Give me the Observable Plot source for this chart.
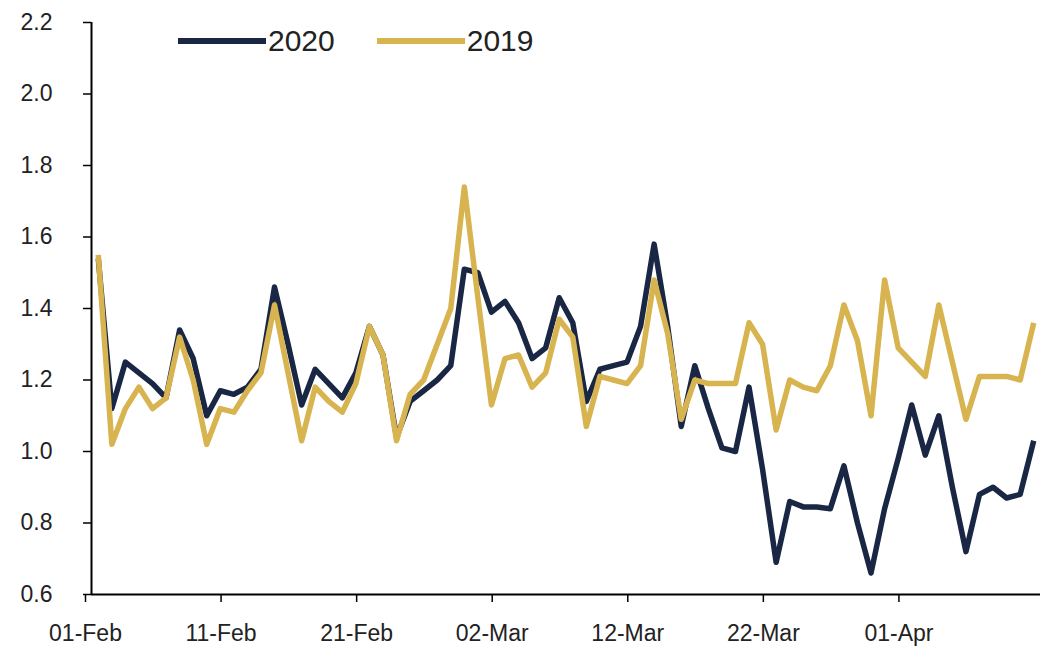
<!DOCTYPE html>
<html>
<head>
<meta charset="utf-8">
<script src="https://cdn.jsdelivr.net/npm/d3@7"></script>
<script src="https://cdn.jsdelivr.net/npm/@observablehq/plot@0.6"></script>
<style>
  html, body { margin: 0; padding: 0; background: #fff; }
  #wrap { position: relative; width: 1041px; height: 658px; font-family: "Liberation Sans", Arial, sans-serif; }
  #legend { position: absolute; top: 24px; left: 178px; display: flex; align-items: center; font-size: 30px; color: #222; }
  #legend .item { display: flex; align-items: center; margin-right: 42px; }
  #legend .sw { width: 88px; height: 6px; margin-right: 2px; }
</style>
</head>
<body>
<div id="wrap">
  <div id="chart"></div>
  <div id="legend"></div>
</div>
<script>
// ---- data ----
const startDate = "2020-02-01";
const endDate = "2020-04-11"; // axis end (exclusive)
const seriesNames = ["2020", "2019"];
const seriesColors = ["#192744", "#d7b44f"];
const values2020 = [1.54,1.12,1.25,1.22,1.19,1.15,1.34,1.26,1.10,1.17,
  1.16,1.18,1.23,1.46,1.30,1.13,1.23,1.19,1.15,1.22,
  1.35,1.27,1.04,1.14,1.17,1.20,1.24,1.51,1.50,1.39,
  1.42,1.36,1.26,1.29,1.43,1.36,1.14,1.23,1.24,1.25,
  1.35,1.58,1.35,1.07,1.24,1.12,1.01,1.00,1.18,0.95,
  0.69,0.86,0.845,0.845,0.84,0.96,0.80,0.66,0.84,0.98,
  1.13,0.99,1.10,0.90,0.72,0.88,0.90,0.87,0.88,1.03];
const values2019 = [1.55,1.02,1.12,1.18,1.12,1.15,1.32,1.20,1.02,1.12,
  1.11,1.17,1.22,1.41,1.22,1.03,1.18,1.14,1.11,1.19,
  1.35,1.27,1.03,1.16,1.20,1.30,1.40,1.74,1.43,1.13,
  1.26,1.27,1.18,1.22,1.37,1.32,1.07,1.21,1.20,1.19,
  1.24,1.48,1.33,1.09,1.20,1.19,1.19,1.19,1.36,1.30,
  1.06,1.20,1.18,1.17,1.24,1.41,1.31,1.10,1.48,1.29,
  1.25,1.21,1.41,1.25,1.09,1.21,1.21,1.21,1.20,1.36];
const xTickDates = ["2020-02-01","2020-02-11","2020-02-21","2020-03-02","2020-03-12","2020-03-22","2020-04-01"];
const yTicks = [0.6,0.8,1.0,1.2,1.4,1.6,1.8,2.0,2.2];

// ---- build table ----
const start = new Date(startDate + "T00:00:00Z");
const end = new Date(endDate + "T00:00:00Z");
const days = d3.utcDay.range(start, d3.utcDay.offset(start, values2020.length));
const rows = [];
[values2020, values2019].forEach((vals, k) => {
  vals.forEach((v, i) => rows.push({series: seriesNames[k], date: days[i], value: v}));
});
const mid = d => d3.utcHour.offset(d.date, 12);
const font = '"Liberation Sans", Arial, sans-serif';

const chart = Plot.plot({
  width: 1041,
  height: 658,
  marginLeft: 91,
  marginRight: 1,
  marginTop: 22,
  marginBottom: 64,
  style: {fontFamily: font, fontSize: "23px", color: "#222", background: "#fff"},
  x: {type: "utc", domain: [start, end]},
  y: {domain: [0.6, 2.2]},
  color: {domain: seriesNames, range: seriesColors},
  marks: [
    Plot.axisX({ticks: xTickDates.map(s => new Date(s + "T00:00:00Z")), tickFormat: d3.utcFormat("%d-%b"), tickSize: 8, tickPadding: 22, label: null, fontSize: 23, dx: -6, stroke: "#000", strokeWidth: 1.5}),
    Plot.axisY({ticks: yTicks, tickFormat: d3.format(".1f"), tickSize: 8, tickPadding: 31, label: null, fontSize: 23, stroke: "#000", strokeWidth: 1.5}),
    Plot.lineY(rows.filter(r => r.series === "2020"), {x: mid, y: "value", stroke: "series", strokeWidth: 5.5, strokeLinejoin: "round", strokeLinecap: "butt"}),
    Plot.lineY(rows.filter(r => r.series === "2019"), {x: mid, y: "value", stroke: "series", strokeWidth: 5.5, strokeLinejoin: "round", strokeLinecap: "butt"}),
    Plot.ruleY([0.6], {stroke: "#000", strokeWidth: 2}),
    Plot.ruleX([start], {y1: 0.6, y2: 2.2, stroke: "#000", strokeWidth: 2})
  ]
});
document.getElementById("chart").appendChild(chart);

const legend = d3.select("#legend");
seriesNames.forEach((name, k) => {
  const item = legend.append("div").attr("class", "item");
  item.append("div").attr("class", "sw").style("background", seriesColors[k]);
  item.append("span").text(name);
});
</script>
</body>
</html>
